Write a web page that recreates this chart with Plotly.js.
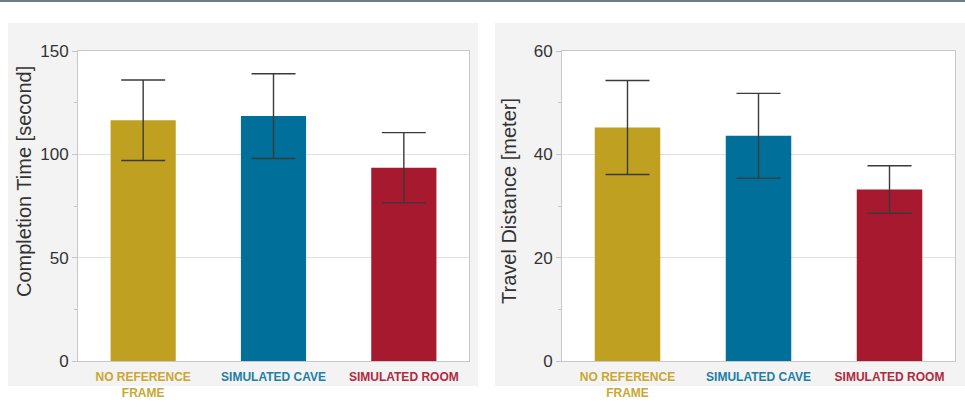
<!DOCTYPE html>
<html>
<head>
<meta charset="utf-8">
<script src="https://cdn.plot.ly/plotly-3.0.1.min.js"></script>
<style>
html,body{margin:0;padding:0;background:#fff;}
#wrap{position:relative;width:965px;height:406px;}
.panel{position:absolute;background:#f3f3f3;top:23px;height:363px;}
#p1{left:8px;width:470px;}
#p2{left:495px;width:470px;}
#topline{position:absolute;left:0;top:0;width:965px;height:2px;background:#6b7d86;}
#chart{position:absolute;left:0;top:0;width:965px;height:406px;}
</style>
</head>
<body>
<div id="wrap">
  <div class="panel" id="p1"></div>
  <div class="panel" id="p2"></div>
  <div id="topline"></div>
  <div id="chart"></div>
</div>
<script>
// ---- data ----
const categories = ["NO REFERENCE<br>FRAME", "SIMULATED CAVE", "SIMULATED ROOM"];
const barColors = ["#c0a021", "#00709a", "#a6192e"];
const labelColors = ["#c9a732", "#237ea6", "#b02a40"];
const completionTime = [116.5, 118.5, 93.5];
const completionTimeErr = [19.5, 20.5, 17.0];
const travelDistance = [45.2, 43.6, 33.2];
const travelDistanceErr = [9.1, 8.2, 4.6];
const yTitle1 = "Completion Time [second]";
const yTitle2 = "Travel Distance [meter]";

const W = 965, H = 406;
const px = v => v / W;
const py = v => 1 - v / H;

const xIdx = categories.map((_, i) => i);
const tickText = categories.map((c, i) => '<b><span style="color:' + labelColors[i] + '">' + c + '</span></b>');

const font = "Liberation Sans, Arial, Helvetica, sans-serif";

function barTrace(vals, errs, xa, ya) {
  return {
    type: "bar",
    x: xIdx,
    y: vals,
    xaxis: xa,
    yaxis: ya,
    marker: {color: barColors},
    error_y: {type: "data", array: errs, visible: true, color: "#3a3a3a", thickness: 1.4, width: 22},
    hoverinfo: "none",
    showlegend: false
  };
}

function yAx(range, dtick, minorDtick) {
  return {
    domain: [py(361), py(51)],
    range: range,
    dtick: dtick,
    tick0: 0,
    ticks: "outside",
    ticklen: 5,
    tickcolor: "#c4c4c4",
    tickwidth: 1,
    minor: {ticks: "outside", ticklen: 3, dtick: minorDtick, tick0: 0, tickcolor: "#c4c4c4", showgrid: false},
    showgrid: true,
    gridcolor: "#e2e2e2",
    gridwidth: 1,
    zeroline: false,
    showline: true,
    mirror: true,
    linecolor: "#c8c8c8",
    linewidth: 1,
    tickfont: {family: font, size: 17, color: "#333"},
    fixedrange: true
  };
}

function xAx(d0, d1, anchor) {
  return {
    domain: [d0, d1],
    anchor: anchor,
    range: [-0.5, 2.5],
    tickvals: xIdx,
    ticktext: tickText,
    ticks: "",
    ticklabelstandoff: 5,
    showgrid: false,
    zeroline: false,
    showline: true,
    mirror: true,
    linecolor: "#c8c8c8",
    linewidth: 1,
    tickfont: {family: font, size: 12},
    fixedrange: true
  };
}

const data = [
  barTrace(completionTime, completionTimeErr, "x", "y"),
  barTrace(travelDistance, travelDistanceErr, "x2", "y2")
];

const layout = {
  width: W,
  height: H,
  margin: {l: 0, r: 0, t: 0, b: 0},
  paper_bgcolor: "rgba(0,0,0,0)",
  plot_bgcolor: "#ffffff",
  bargap: 0.5,
  font: {family: font, color: "#333"},
  xaxis: xAx(px(78), px(469), "y"),
  yaxis: Object.assign(yAx([0, 150], 50, 25), {anchor: "x"}),
  xaxis2: xAx(px(562), px(955), "y2"),
  yaxis2: Object.assign(yAx([0, 60], 20, 10), {anchor: "x2"}),
  annotations: [
    {text: yTitle1, xref: "paper", yref: "paper", x: px(24), y: py(182), textangle: -90,
     showarrow: false, xanchor: "center", yanchor: "middle", font: {family: font, size: 20, color: "#333"}},
    {text: yTitle2, xref: "paper", yref: "paper", x: px(509), y: py(201), textangle: -90,
     showarrow: false, xanchor: "center", yanchor: "middle", font: {family: font, size: 20, color: "#333"}}
  ]
};

Plotly.newPlot("chart", data, layout, {displayModeBar: false, staticPlot: true});
</script>
</body>
</html>
